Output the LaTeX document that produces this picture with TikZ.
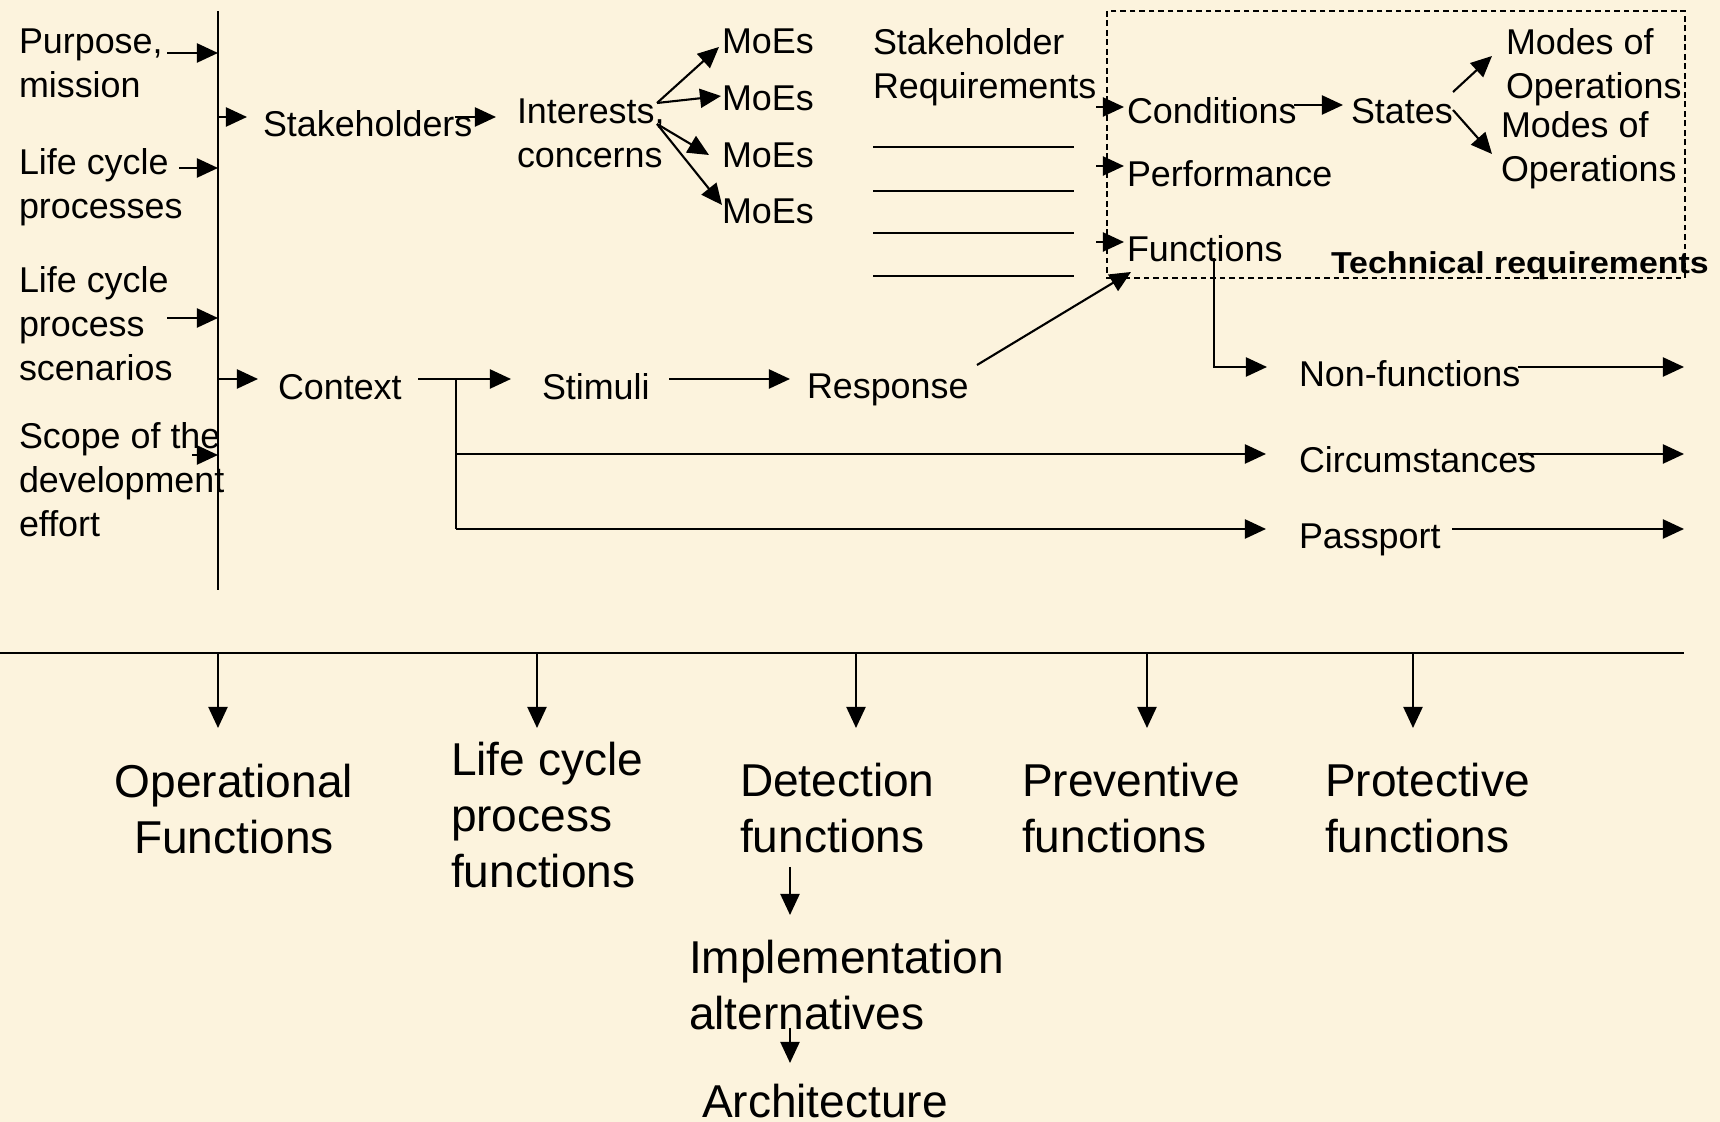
\documentclass[tikz,border=0pt]{standalone}
\usepackage{fontspec}
\setmainfont{Liberation Sans}
\newfontfamily\techfont{Liberation Sans}[FakeStretch=1.12]
\usetikzlibrary{arrows.meta}
\definecolor{bg}{RGB}{252,243,221}
\newcommand{\topfnt}{\fontsize{10.2}{12.5}\selectfont}
\newcommand{\botfnt}{\fontsize{13.1}{15.9}\selectfont}
\begin{document}
\begin{tikzpicture}[x=0.01cm,y=-0.01cm,
  ln/.style={line width=0.6pt},
  arr/.style={line width=0.6pt,-{Triangle[length=0.21cm,width=0.19cm]}},
  txt/.style={inner sep=0pt,outer sep=0pt,anchor=north west,align=left,font=\topfnt},
  btxt/.style={inner sep=0pt,outer sep=0pt,anchor=north west,align=left,font=\botfnt},
  boxdash/.style={line width=0.5pt,dash pattern=on 1.6pt off 1.1pt}]
\fill[bg] (0,0) rectangle (1720,1122);
\useasboundingbox (0,0) rectangle (1720,1122);

% ---- top text nodes ----
\node[txt] (purpose) at (19,29) {Purpose,\\mission};
\node[txt] (lcp) at (19,149) {Life cycle\\processes};
\node[txt] (lcps) at (19,267) {Life cycle\\process\\scenarios};
\node[txt] (scope) at (19,423) {Scope of the\\development\\effort};
\node[txt] (stake) at (263,111) {Stakeholders};
\node[txt] (inter) at (517,99) {Interests,\\concerns};
\node[txt] (moe1) at (722,29) {MoEs};
\node[txt] (moe2) at (722,86) {MoEs};
\node[txt] (moe3) at (722,143) {MoEs};
\node[txt] (moe4) at (722,199) {MoEs};
\node[txt] (sreq) at (873,29) {Stakeholder\\Requirements};
\node[txt] (cond) at (1127,98) {Conditions};
\node[txt] (states) at (1351,98) {States};
\node[txt] (modes1) at (1506,29) {Modes of\\Operations};
\node[txt] (modes2) at (1501,112) {Modes of\\Operations};
\node[txt] (perf) at (1127,161) {Performance};
\node[txt] (func) at (1127,236) {Functions};
\node[inner sep=0pt,outer sep=0pt,anchor=north west,font=\techfont\bfseries\fontsize{8.6}{10}\selectfont] (tech) at (1331,252) {Technical requirements};
\node[txt] (context) at (278,374) {Context};
\node[txt] (stimuli) at (542,374) {Stimuli};
\node[txt] (response) at (807,374) {Response};
\node[txt] (nonf) at (1299,361) {Non-functions};
\node[txt] (circ) at (1299,447) {Circumstances};
\node[txt] (pass) at (1299,524) {Passport};

% ---- bottom text nodes ----
\node[btxt,anchor=north,align=center] (opf) at (234,764) {Operational\\Functions};
\node[btxt] (lcpf) at (451,742) {Life cycle\\process\\functions};
\node[btxt] (det) at (740,763) {Detection\\functions};
\node[btxt] (prev) at (1022,763) {Preventive\\functions};
\node[btxt] (prot) at (1325,763) {Protective\\functions};
\node[btxt] (impl) at (689,940) {Implementation\\alternatives};
\node[btxt] (arch) at (702,1084) {Architecture};

% ---- main vertical line ----
\coordinate (vt) at (218,11);
\coordinate (vb) at (218,590);
\draw[ln] (vt) -- (vb);

% inputs into the vertical line
\coordinate (i1) at (167,53);  \coordinate (j1) at (218,53);
\coordinate (i2) at (179,168); \coordinate (j2) at (218,168);
\coordinate (i3) at (167,318); \coordinate (j3) at (218,318);
\coordinate (i4) at (192,455); \coordinate (j4) at (218,455);
\draw[arr] (i1) -- (j1);
\draw[arr] (i2) -- (j2);
\draw[arr] (i3) -- (j3);
\draw[arr] (i4) -- (j4);

% outputs from the vertical line
\coordinate (os) at (218,117); \coordinate (ts) at (247,117);
\draw[arr] (os) -- (ts);
\coordinate (oc) at (218,379); \coordinate (tc) at (258,379);
\draw[arr] (oc) -- (tc);

% stakeholders -> interests
\coordinate (si1) at (455,117); \coordinate (si2) at (496,117);
\draw[arr] (si1) -- (si2);

% interests -> MoEs
\coordinate (im1) at (657,103);
\coordinate (im2) at (657,124);
\coordinate (m1) at (719,47);
\coordinate (m2) at (721,96);
\coordinate (m3) at (709,155);
\coordinate (m4) at (722,205);
\draw[arr] (im1) -- (m1);
\draw[arr] (im1) -- (m2);
\draw[arr] (im2) -- (m3);
\draw[arr] (im2) -- (m4);

% blank requirement lines
\foreach \yy in {147,191,233,276} {
  \draw[ln] (873,\yy) -- (1074,\yy);
}

% technical requirements box
\draw[boxdash] (1107,11) rectangle (1685,278);
\coordinate (b1) at (1096,107); \coordinate (c1) at (1124,107);
\coordinate (b2) at (1096,166); \coordinate (c2) at (1124,166);
\coordinate (b3) at (1096,242); \coordinate (c3) at (1124,242);
\draw[arr] (b1) -- (c1);
\draw[arr] (b2) -- (c2);
\draw[arr] (b3) -- (c3);

% conditions -> states -> modes
\coordinate (cs1) at (1294,105); \coordinate (cs2) at (1343,105);
\draw[arr] (cs1) -- (cs2);
\coordinate (sm) at (1453,92); \coordinate (sm2) at (1453,110);
\coordinate (mo1) at (1492,56); \coordinate (mo2) at (1492,154);
\draw[arr] (sm) -- (mo1);
\draw[arr] (sm2) -- (mo2);

% response -> functions
\coordinate (rf1) at (977,365); \coordinate (rf2) at (1131,272);
\draw[arr] (rf1) -- (rf2);

% functions -> non-functions
\coordinate (fn1) at (1214,258); \coordinate (fn2) at (1214,367); \coordinate (fn3) at (1267,367);
\draw[arr] (fn1) -- (fn2) -- (fn3);
\coordinate (no1) at (1518,367); \coordinate (no2) at (1684,367);
\draw[arr] (no1) -- (no2);

% context -> stimuli -> response
\coordinate (cx1) at (418,379); \coordinate (cx2) at (511,379);
\draw[arr] (cx1) -- (cx2);
\coordinate (sr1) at (669,379); \coordinate (sr2) at (790,379);
\draw[arr] (sr1) -- (sr2);

% context branches
\coordinate (br0) at (456,379);
\coordinate (br1) at (456,454); \coordinate (br1e) at (1266,454);
\coordinate (br2) at (456,529); \coordinate (br2e) at (1266,529);
\draw[ln] (br0) -- (br2);
\draw[arr] (br1) -- (br1e);
\draw[arr] (br2) -- (br2e);
\coordinate (ci1) at (1518,454); \coordinate (ci2) at (1684,454);
\draw[arr] (ci1) -- (ci2);
\coordinate (pa1) at (1452,529); \coordinate (pa2) at (1684,529);
\draw[arr] (pa1) -- (pa2);

% separator and bottom arrows
\coordinate (sl) at (0,653); \coordinate (sr) at (1684,653);
\draw[ln] (sl) -- (sr);
\foreach \xx in {218,537,856,1147,1413} {
  \draw[arr] (\xx,653) -- (\xx,728);
}
\coordinate (di1) at (790,867); \coordinate (di2) at (790,915);
\draw[arr] (di1) -- (di2);
\coordinate (ia1) at (790,1028); \coordinate (ia2) at (790,1063);
\draw[arr] (ia1) -- (ia2);
\end{tikzpicture}
\end{document}
